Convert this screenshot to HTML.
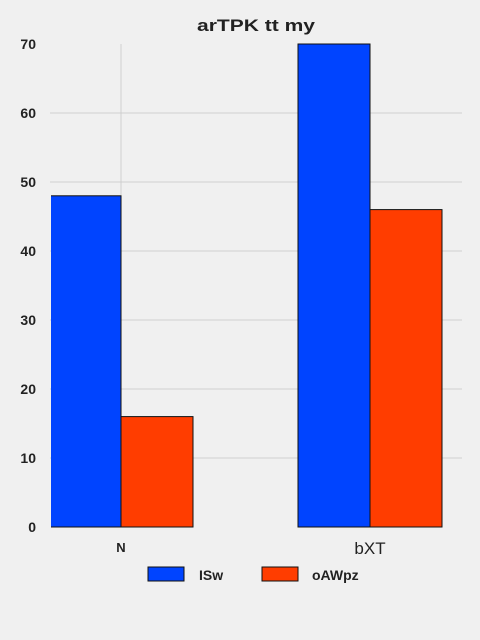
<!DOCTYPE html>
<html><head><meta charset="utf-8"><style>
body{margin:0;background:#f0f0f0;}
svg{display:block;font-family:"Liberation Sans",sans-serif;}
</style></head><body>
<svg id="chart" width="480" height="640" viewBox="0 0 480 640">
<defs><clipPath id="plotclip"><rect x="51" y="40" width="420" height="490"/></clipPath></defs>
<rect width="480" height="640" fill="#f0f0f0"/>
<text x="256" y="31" text-anchor="middle" font-size="17" font-weight="bold" fill="#222" textLength="118" lengthAdjust="spacingAndGlyphs">arTPK tt  my</text>
<g id="grid"></g><g id="bars" clip-path="url(#plotclip)"></g><g id="ticks"></g>
<g>
<rect x="148" y="567" width="36" height="14" fill="#0044ff" stroke="#111" stroke-width="1"/>
<text x="199" y="580" font-size="14" font-weight="bold" fill="#222">ISw</text>
<rect x="262" y="567" width="36" height="14" fill="#ff3d00" stroke="#111" stroke-width="1"/>
<text x="312" y="580" font-size="14" font-weight="bold" fill="#222">oAWpz</text>
</g>
</svg>
<script>
const categories=["N","bXT"];
const seriesISw=[48,70];
const seriesOAWpz=[16,46];
const yTicks=[0,10,20,30,40,50,60,70];
const NS="http://www.w3.org/2000/svg";
const x0=50,x1=462,yTop=44,yBot=527,yMax=70;
const y=v=>yBot-(v/yMax)*(yBot-yTop);
const cx=i=>121+i*249;
const bw=72;
function mk(tag,attrs,parent,txt){const e=document.createElementNS(NS,tag);for(const k in attrs)e.setAttribute(k,attrs[k]);if(txt!==undefined)e.textContent=txt;document.getElementById(parent).appendChild(e);return e;}
yTicks.forEach(t=>{
 if(t>0&&t<yMax){const g=mk('line',{x1:x0,x2:x1,y1:y(t),y2:y(t),stroke:'#cfcfcf','stroke-width':1},'grid');
 
 }
 const l=mk('text',{x:36,y:y(t)+5,'text-anchor':'end','font-size':14,'font-weight':'bold',fill:'#222'},'ticks',t);
 
 
});
categories.forEach((c,i)=>{
 const g=mk('line',{x1:cx(i),x2:cx(i),y1:yTop,y2:yBot,stroke:'#cfcfcf','stroke-width':1},'grid');
 
 
 const b1=mk('rect',{x:cx(i)-bw,y:y(seriesISw[i]),width:bw,height:yBot-y(seriesISw[i]),fill:'#0044ff',stroke:'#111','stroke-width':1},'bars');
 
 
 const b2=mk('rect',{x:cx(i),y:y(seriesOAWpz[i]),width:bw,height:yBot-y(seriesOAWpz[i]),fill:'#ff3d00',stroke:'#111','stroke-width':1},'bars');
 
 
 const bold=i===0;
 const l=mk('text',{x:cx(i),y:bold?552:554,'text-anchor':'middle','font-size':bold?13:17,'font-weight':bold?'bold':'normal',fill:'#222'},'ticks',c);
 
 
});
</script>
</body></html>
